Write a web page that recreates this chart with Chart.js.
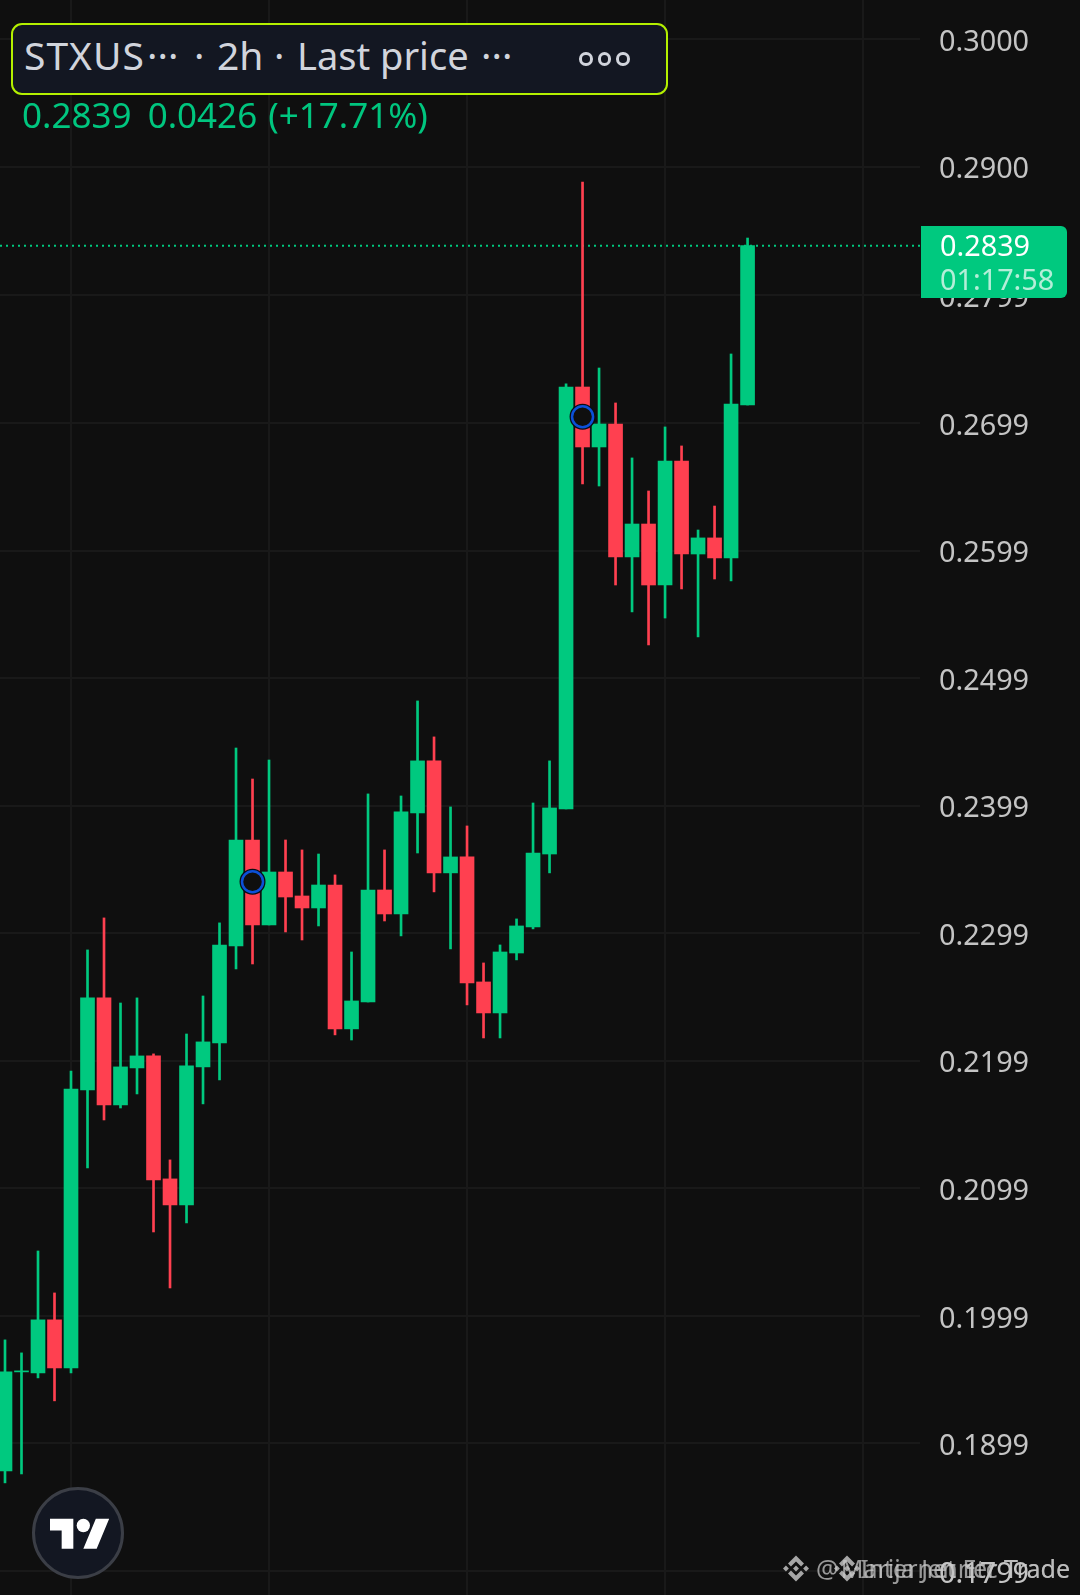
<!DOCTYPE html>
<html>
<head>
<meta charset="utf-8">
<style>
html,body{margin:0;padding:0;background:#0f0f0f;width:1080px;height:1595px;overflow:hidden;font-family:"Noto Sans",sans-serif}
#wrap{position:relative;width:1080px;height:1595px}
canvas{position:absolute;left:0;top:0}
.abs{position:absolute;white-space:pre}
#box{left:11px;top:23px;width:653px;height:68px;border:2px solid #b4f000;border-radius:11px;background:#131722}
.t{top:30px;font-size:39px;line-height:50px;color:#d1d4dc}
#dots{left:579px;top:52px;font-size:0}
#dots i{display:inline-block;width:7.5px;height:7.5px;border:3px solid #d1d4dc;border-radius:50%;margin-right:5px}
#legend{left:22px;top:93px;font-size:35px;line-height:44px;color:#00c67f;word-spacing:-1px}
#tag{left:921px;top:226px;width:146px;height:72px;background:#00c97f;border-radius:0 6px 6px 0}
#tagP{left:940px;top:226px;font-size:28.8px;line-height:38px;color:#fff}
#tagT{left:940px;top:260px;font-size:28.8px;line-height:38px;color:#b4eed8}
#logo{left:32px;top:1487px;width:86px;height:86px;border:3px solid #3b3e46;border-radius:50%;background:#131722}
#tv{left:50px;top:1512px}
.wm{top:1553px;font-size:25px;line-height:30px;color:rgba(200,200,200,.75)}
.bn{top:1555px;fill:#a6a6a6}
</style>
</head>
<body>
<div id="wrap">
<canvas id="c" width="1080" height="1595"></canvas>
<div class="abs" id="box"></div>
<div class="abs t" style="left:24px;letter-spacing:1px">STXUS</div>
<div class="abs t" style="left:147px">···</div>
<div class="abs t" style="left:194px">·</div>
<div class="abs t" style="left:217px">2h</div>
<div class="abs t" style="left:274px">·</div>
<div class="abs t" style="left:297px;font-size:38px">Last price</div>
<div class="abs t" style="left:481px">···</div>
<div class="abs" id="dots"><i></i><i></i><i></i></div>
<div class="abs" id="legend">0.2839  0.0426 <span style="margin-left:3px">(+17.71%)</span></div>
<div class="abs" id="tag"></div>
<div class="abs" id="tagP">0.2839</div>
<div class="abs" id="tagT">01:17:58</div>
<div class="abs" id="logo"></div>
<svg class="abs" id="tv" width="60" height="47" viewBox="0 0 36 28"><path fill="#fff" d="M14 22H7V11H0V4h14v18zM28 22h-8l7.5-18h8L28 22z"/><circle fill="#fff" cx="20" cy="8" r="4"/></svg>
<svg class="abs bn" style="left:783px" width="26" height="27" viewBox="0 0 126.61 126.61"><path d="M38.73 53.2l24.59-24.58 24.6 24.6 14.3-14.31L63.32 0 24.42 38.9zM0 63.31l14.3-14.31 14.31 14.31-14.31 14.3zM38.73 73.41l24.59 24.59 24.6-24.6 14.31 14.29-38.9 38.91-38.91-38.88zM98 63.31l14.3-14.3 14.31 14.3-14.31 14.3zM77.83 63.3L63.32 48.78 52.59 59.51l-1.24 1.23-2.54 2.54 14.51 14.5 14.51-14.47z"/></svg>
<svg class="abs bn" style="left:834px" width="26" height="27" viewBox="0 0 126.61 126.61"><path d="M38.73 53.2l24.59-24.58 24.6 24.6 14.3-14.31L63.32 0 24.42 38.9zM0 63.31l14.3-14.31 14.31 14.31-14.31 14.3zM38.73 73.41l24.59 24.59 24.6-24.6 14.31 14.29-38.9 38.91-38.91-38.88zM98 63.31l14.3-14.3 14.31 14.3-14.31 14.3zM77.83 63.3L63.32 48.78 52.59 59.51l-1.24 1.23-2.54 2.54 14.51 14.5 14.51-14.47z"/></svg>
<div class="abs wm" style="left:816px">@</div>
<div class="abs wm" style="right:10px">Marija Jenner Trade</div>
<div class="abs wm" style="right:10px">Internet Etc Trade</div>
</div>
<script src="https://cdn.jsdelivr.net/npm/chart.js"></script>
<script>
var opens=[0.18775,0.19551,0.19543,0.19959,0.19582,0.21761,0.22483,0.21644,0.21934,0.22028,0.21064,0.20860,0.21942,0.22130,0.22890,0.23721,0.23055,0.23470,0.23282,0.23188,0.23368,0.22240,0.22451,0.23329,0.23141,0.23933,0.24341,0.23463,0.23588,0.22608,0.22365,0.22835,0.23039,0.23611,0.23964,0.27272,0.26802,0.26982,0.25940,0.26198,0.25720,0.26692,0.25963,0.26089,0.25932,0.27131];
var closes=[0.19551,0.19559,0.19959,0.19582,0.21769,0.22483,0.21644,0.21942,0.22028,0.21056,0.20860,0.21950,0.22138,0.22898,0.23721,0.23055,0.23470,0.23274,0.23188,0.23368,0.22240,0.22459,0.23329,0.23141,0.23941,0.24341,0.23463,0.23588,0.22600,0.22365,0.22843,0.23047,0.23619,0.23972,0.27272,0.26802,0.26982,0.25940,0.26198,0.25720,0.26692,0.25963,0.26089,0.25932,0.27139,0.28380];
var highs=[0.19802,0.19700,0.20499,0.20170,0.21910,0.22859,0.23110,0.22443,0.22483,0.22044,0.21213,0.22200,0.22498,0.23071,0.24442,0.24199,0.24348,0.23721,0.23643,0.23611,0.23447,0.22843,0.24082,0.23643,0.24066,0.24811,0.24529,0.23980,0.23831,0.22757,0.22898,0.23102,0.24011,0.24341,0.27296,0.28879,0.27421,0.27147,0.26716,0.26457,0.26959,0.26810,0.26151,0.26339,0.27531,0.28440];
var lows=[0.18681,0.18751,0.19504,0.19324,0.19543,0.21150,0.21526,0.21620,0.21730,0.20648,0.20209,0.20719,0.21652,0.21840,0.22710,0.22749,0.23055,0.23000,0.22937,0.23047,0.22193,0.22153,0.22451,0.23086,0.22969,0.23619,0.23314,0.22867,0.22428,0.22169,0.22169,0.22781,0.23024,0.23463,0.23964,0.26512,0.26496,0.25720,0.25509,0.25250,0.25461,0.25689,0.25313,0.25767,0.25752,0.27131];
var tickValues=[0.3000,0.2900,0.2799,0.2699,0.2599,0.2499,0.2399,0.2299,0.2199,0.2099,0.1999,0.1899,0.1799];
var timeTicks=[4,16,28,40,52];
var lastPrice=0.2838;
var markerIdx=[15,35];
var markerPrices=[0.23394,0.27039];

var GREEN='#00c97f',RED='#ff4050';
var idx=opens.map(function(_,i){return i;});
var colors=idx.map(function(i){return closes[i]>=opens[i]?GREEN:RED;});
var xMin=-0.303,xMax=55.45;

new Chart(document.getElementById('c'),{
  type:'bar',
  data:{datasets:[
    {type:'line',data:[{x:xMin,y:lastPrice},{x:xMax,y:lastPrice}],borderColor:GREEN,borderWidth:2,borderDash:[2,4],pointRadius:0,order:5},
    {data:idx.map(function(i){return {x:i,y:[lows[i],highs[i]]};}),backgroundColor:colors,barThickness:2,grouped:false,order:4},
    {data:idx.map(function(i){return {x:i,y:[opens[i],closes[i]]};}),backgroundColor:colors,barThickness:14,grouped:false,order:3},
    {type:'scatter',data:markerIdx.map(function(m,k){return {x:m,y:markerPrices[k]};}),pointStyle:'circle',pointRadius:13,backgroundColor:'#090d14',borderWidth:0,order:2},
    {type:'scatter',data:markerIdx.map(function(m,k){return {x:m,y:markerPrices[k]};}),pointStyle:'circle',pointRadius:10.5,backgroundColor:'#0f0f0f',borderColor:'#0c50d8',borderWidth:2.5,order:1}
  ]},
  options:{
    responsive:false,animation:false,devicePixelRatio:1,
    layout:{padding:0,autoPadding:false},
    plugins:{legend:{display:false},tooltip:{enabled:false}},
    scales:{
      x:{type:'linear',min:xMin,max:xMax,offset:false,
        afterBuildTicks:function(a){a.ticks=timeTicks.map(function(v){return {value:v};});},
        afterFit:function(a){a.height=0;a.paddingLeft=0;a.paddingRight=0;a.paddingTop=0;a.paddingBottom=0;},
        grid:{color:'#191919',lineWidth:2,drawTicks:false,offset:false},
        border:{display:false},
        ticks:{display:false}},
      y:{type:'linear',position:'right',min:0.17802,max:0.30306,
        afterBuildTicks:function(a){a.ticks=tickValues.map(function(v){return {value:v};});},
        afterFit:function(a){a.width=160;a.paddingTop=0;a.paddingBottom=0;},
        grid:{color:'#191919',lineWidth:2,drawTicks:false},
        border:{display:false},
        ticks:{padding:19,labelOffset:3.5,crossAlign:'near',color:'#c4c4c4',autoSkip:false,font:{family:'Noto Sans',size:28.8},
          callback:function(v){return v.toFixed(4);}}}
    }
  }
});
</script>
</body>
</html>
